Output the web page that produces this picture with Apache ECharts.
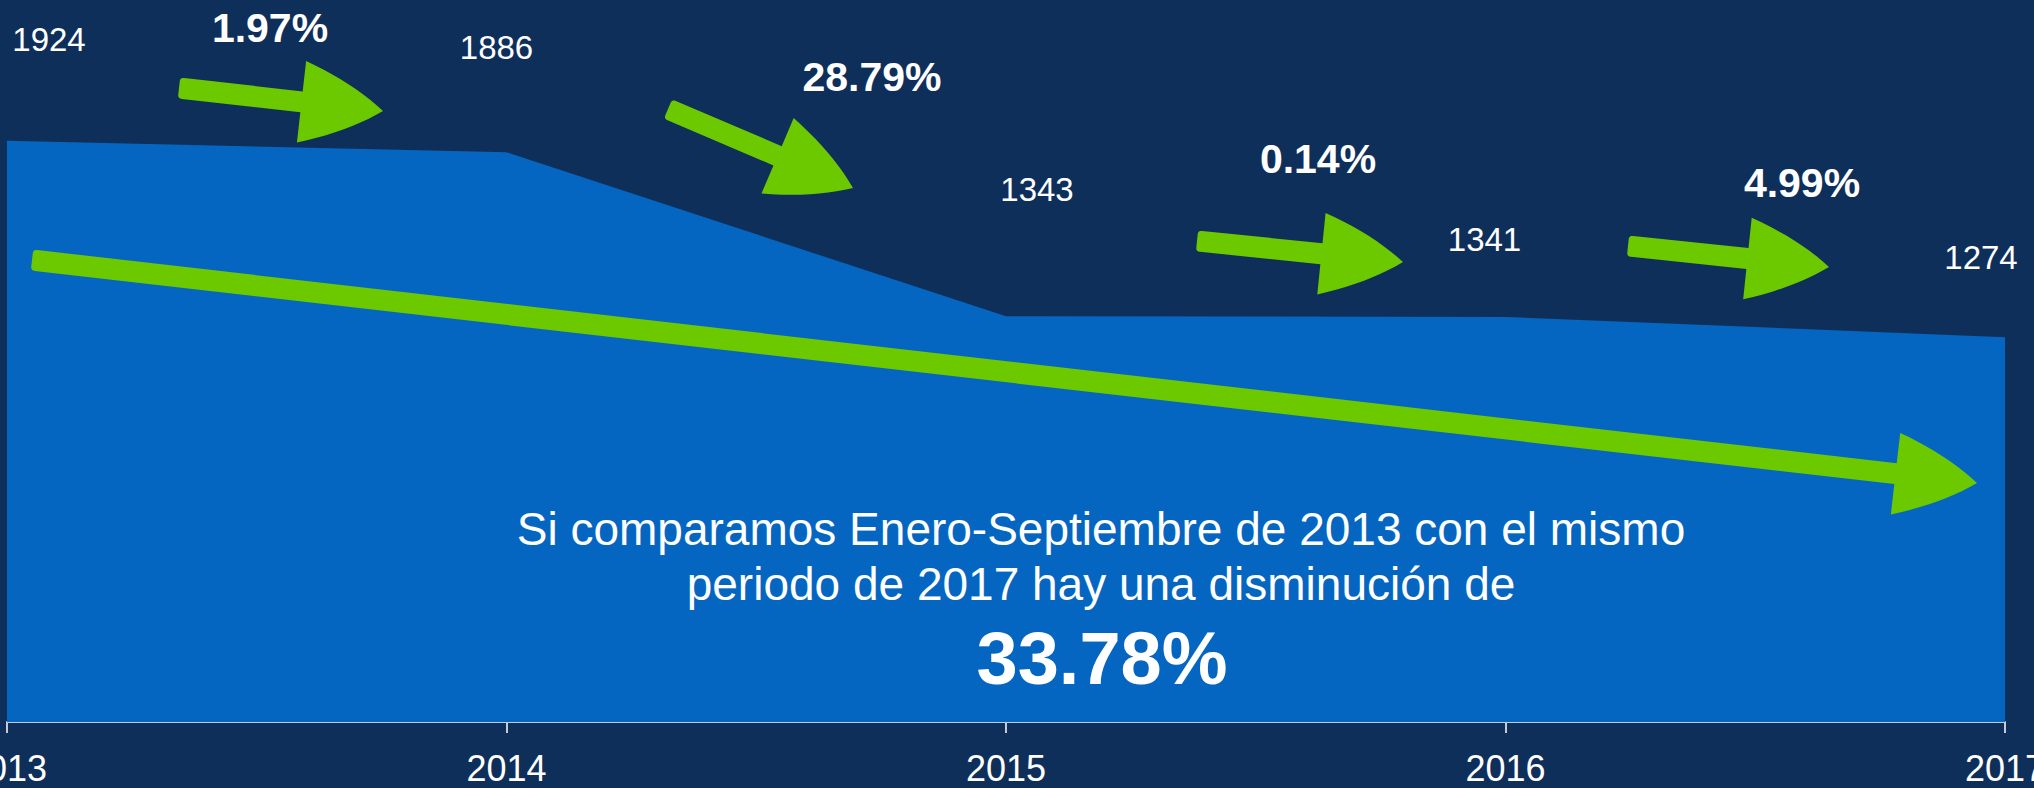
<!DOCTYPE html>
<html>
<head>
<meta charset="utf-8">
<script src="https://cdn.jsdelivr.net/npm/echarts@6/dist/echarts.min.js"></script>
<style>
html, body { margin: 0; padding: 0; background: #0f2f5b; }
#chart { width: 2034px; height: 788px; }
</style>
</head>
<body>
<div id="chart"></div>
<script>
// Enero-Septiembre de cada año
var years = ['2013', '2014', '2015', '2016', '2017'];
var totals = [1924, 1886, 1343, 1341, 1274];
var changes = ['1.97%', '28.79%', '0.14%', '4.99%'];
var summaryLines = ['Si comparamos Enero-Septiembre de 2013 con el mismo', 'periodo de 2017 hay una disminución de'];
var totalChange = '33.78%';

var NAVY = '#0f2f5b';
var BLUE = '#0566c1';
var GREEN = '#6cc900';
var FONT = '"Liberation Sans", Arial, sans-serif';

// desplazamiento de cada etiqueta respecto a su punto
var labelOffsets = [[42, -101], [-10, -105], [31, -127], [-21, -77], [-24, -80]];
// flechas pequeñas: cola (x, y) -> punta (x, y)
var arrowPos = [
  [179, 88, 383, 111],
  [668, 109, 853, 188],
  [1197, 241, 1403, 262],
  [1628, 246, 1829, 267]
];
var changePos = [[270, 28], [872, 77], [1318, 159], [1802, 183]];
var trendArrow = [32, 260, 1977, 483];

// flecha gruesa con punta curva, en coordenadas de pantalla
function arrowPoints(a, shaft, headLen, headW) {
  var x0 = a[0], y0 = a[1];
  var dx = a[2] - x0, dy = a[3] - y0;
  var L = Math.sqrt(dx * dx + dy * dy);
  var ux = dx / L, uy = dy / L, nx = -uy, ny = ux;
  var s = shaft / 2, H = headW / 2, b = L - headLen, r = 4;
  var pts = [];
  function quad(p0, c, p1) {
    for (var t = 0; t <= 1.0001; t += 0.1) {
      var m = 1 - t;
      pts.push([m * m * p0[0] + 2 * m * t * c[0] + t * t * p1[0],
                m * m * p0[1] + 2 * m * t * c[1] + t * t * p1[1]]);
    }
  }
  quad([0, -s + r], [0, -s], [r, -s]);
  pts.push([b, -s]);
  pts.push([b, -H]);
  quad([b, -H], [L - headLen * 0.4, -H * 0.6], [L, 0]);
  quad([L, 0], [L - headLen * 0.4, H * 0.6], [b, H]);
  pts.push([b, s]);
  quad([r, s], [0, s], [0, s - r]);
  return pts.map(function (p) {
    return [x0 + p[0] * ux + p[1] * nx, y0 + p[0] * uy + p[1] * ny];
  });
}

var graphics = [];
arrowPos.forEach(function (a) {
  graphics.push({ type: 'polygon', z: 10, silent: true, shape: { points: arrowPoints(a, 21, 82, 82) }, style: { fill: GREEN } });
});
graphics.push({ type: 'polygon', z: 10, silent: true, shape: { points: arrowPoints(trendArrow, 21, 82, 82) }, style: { fill: GREEN } });

changes.forEach(function (t, i) {
  graphics.push({
    type: 'text', z: 11, x: changePos[i][0], y: changePos[i][1],
    style: { text: t, fill: '#ffffff', font: 'bold 41px ' + FONT, textAlign: 'center', textVerticalAlign: 'middle' }
  });
});
summaryLines.forEach(function (t, i) {
  graphics.push({
    type: 'text', z: 11, x: 1101, y: 529 + i * 55,
    style: { text: t, fill: '#ffffff', font: '46px ' + FONT, textAlign: 'center', textVerticalAlign: 'middle' }
  });
});
graphics.push({
  type: 'text', z: 11, x: 1102, y: 658,
  style: { text: totalChange, fill: '#ffffff', font: 'bold 74px ' + FONT, textAlign: 'center', textVerticalAlign: 'middle' }
});

var chart = echarts.init(document.getElementById('chart'), null, { renderer: 'svg' });
chart.setOption({
  backgroundColor: NAVY,
  animation: false,
  grid: { left: 7, right: 29, top: 0, bottom: 66, containLabel: false, outerBoundsMode: 'none' },
  xAxis: {
    type: 'category',
    data: years,
    boundaryGap: false,
    axisLine: { lineStyle: { color: '#c5cbd3', width: 2 } },
    axisTick: { show: true, length: 11, lineStyle: { color: '#c5cbd3', width: 2 } },
    axisLabel: { color: '#ffffff', fontSize: 36, fontFamily: FONT, margin: 28, interval: 0 }
  },
  yAxis: { type: 'value', min: 0, max: 2390, show: false },
  series: [{
    type: 'line',
    data: totals.map(function (v, i) {
      return { value: v, label: { offset: labelOffsets[i] } };
    }),
    symbol: 'circle',
    symbolSize: 1,
    itemStyle: { color: 'rgba(0,0,0,0)' },
    lineStyle: { width: 0 },
    areaStyle: { color: BLUE, opacity: 1 },
    label: { show: true, position: 'inside', color: '#ffffff', fontSize: 33, fontFamily: FONT },
    silent: true
  }],
  graphic: { elements: graphics }
});
</script>
</body>
</html>
